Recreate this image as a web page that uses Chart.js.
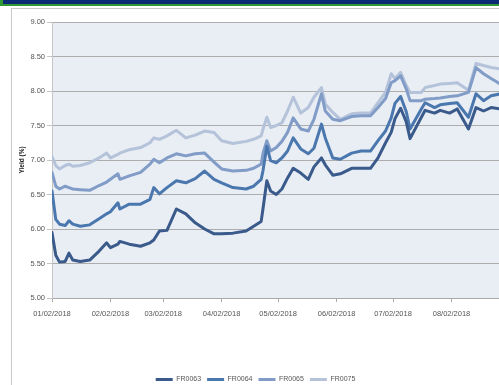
<!DOCTYPE html>
<html>
<head>
<meta charset="utf-8">
<script src="https://cdn.jsdelivr.net/npm/chart.js@4"></script>
<style>
  html, body { margin: 0; padding: 0; background: #fff; overflow: hidden; }
  #topbar { position: absolute; left: 0; top: 0; width: 499px; height: 4px; background: #0b2b74; border-bottom: 2px solid #2f9a35; border-left: 3px solid #2f9a35; }
  #frame { position: absolute; left: 11px; top: 8px; width: 500px; height: 400px; border-left: 1px solid #c9c9c9; border-top: 1px solid #c9c9c9; }
  #yieldChart { position: absolute; left: 0; top: 0; }
</style>
</head>
<body>
<div id="topbar"></div>
<div id="frame"></div>
<canvas id="yieldChart" width="499" height="385"></canvas>
<script>
// trading days counted from 1 Jan 2018
let days = [1, 3, 5, 8, 10, 12, 16, 21, 26, 30, 32, 36, 37, 42, 48, 53, 55, 58, 62, 67, 72, 77, 82, 87, 91, 97, 104, 108, 112, 113, 115, 117, 120, 123, 126, 129, 133, 137, 140, 144, 146, 150, 154, 160, 165, 170, 174, 178, 181, 183, 186, 189, 191, 197, 199, 204, 207, 212, 216, 222, 226, 230, 234, 239];

let fr0063 = [5.95, 5.62, 5.52, 5.53, 5.65, 5.55, 5.53, 5.55, 5.68, 5.80, 5.73, 5.78, 5.82, 5.78, 5.75, 5.80, 5.84, 5.97, 5.98, 6.29, 6.22, 6.09, 6.00, 5.93, 5.93, 5.94, 5.97, 6.04, 6.11, 6.30, 6.70, 6.55, 6.50, 6.58, 6.74, 6.88, 6.81, 6.72, 6.90, 7.03, 6.93, 6.78, 6.80, 6.88, 6.88, 6.88, 7.03, 7.25, 7.40, 7.60, 7.75, 7.55, 7.31, 7.62, 7.72, 7.68, 7.72, 7.68, 7.74, 7.45, 7.76, 7.71, 7.76, 7.74];
let fr0064 = [6.55, 6.14, 6.07, 6.05, 6.12, 6.07, 6.04, 6.06, 6.15, 6.22, 6.25, 6.38, 6.29, 6.36, 6.36, 6.43, 6.60, 6.51, 6.60, 6.70, 6.67, 6.73, 6.84, 6.72, 6.67, 6.60, 6.58, 6.62, 6.72, 6.85, 7.20, 6.99, 6.96, 7.03, 7.13, 7.32, 7.16, 7.09, 7.17, 7.52, 7.32, 7.03, 7.01, 7.10, 7.13, 7.13, 7.28, 7.42, 7.61, 7.82, 7.92, 7.70, 7.45, 7.74, 7.83, 7.76, 7.80, 7.82, 7.83, 7.62, 7.96, 7.86, 7.93, 7.96];
let fr0065 = [6.82, 6.62, 6.58, 6.62, 6.60, 6.58, 6.57, 6.56, 6.63, 6.68, 6.72, 6.80, 6.72, 6.77, 6.82, 6.94, 7.01, 6.96, 7.03, 7.09, 7.06, 7.09, 7.10, 6.97, 6.87, 6.84, 6.85, 6.88, 6.94, 7.10, 7.28, 7.13, 7.18, 7.27, 7.40, 7.61, 7.45, 7.42, 7.59, 7.96, 7.71, 7.59, 7.57, 7.63, 7.64, 7.64, 7.76, 7.89, 8.12, 8.15, 8.22, 8.03, 7.86, 7.86, 7.88, 7.89, 7.90, 7.92, 7.93, 7.98, 8.34, 8.25, 8.18, 8.10];
let fr0075 = [7.05, 6.92, 6.87, 6.92, 6.94, 6.91, 6.92, 6.96, 7.03, 7.10, 7.03, 7.08, 7.10, 7.15, 7.18, 7.25, 7.32, 7.30, 7.35, 7.43, 7.32, 7.36, 7.42, 7.40, 7.28, 7.24, 7.27, 7.30, 7.35, 7.45, 7.62, 7.47, 7.50, 7.54, 7.71, 7.91, 7.68, 7.76, 7.91, 8.05, 7.81, 7.69, 7.59, 7.67, 7.68, 7.68, 7.83, 7.98, 8.25, 8.18, 8.27, 8.08, 7.98, 7.98, 8.05, 8.08, 8.10, 8.11, 8.12, 8.01, 8.40, 8.37, 8.34, 8.32];

let tickDays = [1, 32, 60, 91, 121, 152, 182, 213];
let tickLabels = ['01/02/2018', '02/02/2018', '03/02/2018', '04/02/2018', '05/02/2018', '06/02/2018', '07/02/2018', '08/02/2018'];

let seriesNames = ['FR0063', 'FR0064', 'FR0065', 'FR0075'];
let seriesColors = ['#3a5a8b', '#4a77ae', '#809cc7', '#b4c2da'];

const toPoints = (vals) => vals.map((v, k) => ({ x: days[k], y: v }));

const plotBg = {
    id: 'plotBg',
    beforeDraw(chart) {
        const a = chart.chartArea;
        chart.ctx.save();
        chart.ctx.fillStyle = '#e9edf4';
        chart.ctx.fillRect(a.left, a.top, a.right - a.left, a.bottom - a.top);
        chart.ctx.restore();
    }
};

const ctx = document.getElementById('yieldChart');

var chart = new Chart(ctx, {
    type: 'line',
    data: {
        datasets: [fr0063, fr0064, fr0065, fr0075].map((vals, k) => ({
            label: seriesNames[k],
            data: toPoints(vals),
            borderColor: seriesColors[k],
            backgroundColor: seriesColors[k],
            borderWidth: 3,
            borderCapStyle: 'round',
            borderJoinStyle: 'round',
            pointRadius: 0,
            tension: 0
        }))
    },
    plugins: [plotBg],
    options: {
        responsive: false,
        animation: false,
        layout: { padding: { left: 12, top: 22, right: 0, bottom: -8 } },
        plugins: {
            tooltip: { enabled: false },
            legend: {
                position: 'bottom',
                labels: {
                    usePointStyle: true,
                    pointStyle: 'line',
                    pointStyleWidth: 17,
                    padding: 6,
                    color: '#555',
                    font: { family: 'Liberation Sans', size: 7 }
                }
            }
        },
        scales: {
            x: {
                type: 'linear',
                min: 1,
                max: 238.2,
                afterBuildTicks: (s) => { s.ticks = tickDays.map(d => ({ value: d })); },
                afterFit: (s) => { s.height = 72; },
                ticks: {
                    autoSkip: false,
                    maxRotation: 0,
                    padding: 7,
                    color: '#555',
                    font: { family: 'Liberation Sans', size: 7.5 },
                    callback: (v) => tickLabels[tickDays.indexOf(v)]
                },
                grid: { drawOnChartArea: false, drawTicks: true, tickLength: 4, color: '#a9a9a9' },
                border: { color: '#a9a9a9' }
            },
            y: {
                min: 5,
                max: 9,
                afterFit: (s) => { s.width = 40; },
                ticks: {
                    stepSize: 0.5,
                    padding: 2,
                    color: '#555',
                    font: { family: 'Liberation Sans', size: 7.5 },
                    callback: (v) => v.toFixed(2)
                },
                grid: { color: '#adadad', tickLength: 5, tickColor: '#c4c4c4' },
                border: { color: '#c4c4c4' },
                title: {
                    display: true,
                    text: 'Yield (%)',
                    color: '#222',
                    padding: { top: 6, bottom: 0 },
                    font: { family: 'Liberation Sans', size: 6.5, weight: 'bold' }
                }
            }
        }
    }
});
</script>
</body>
</html>
